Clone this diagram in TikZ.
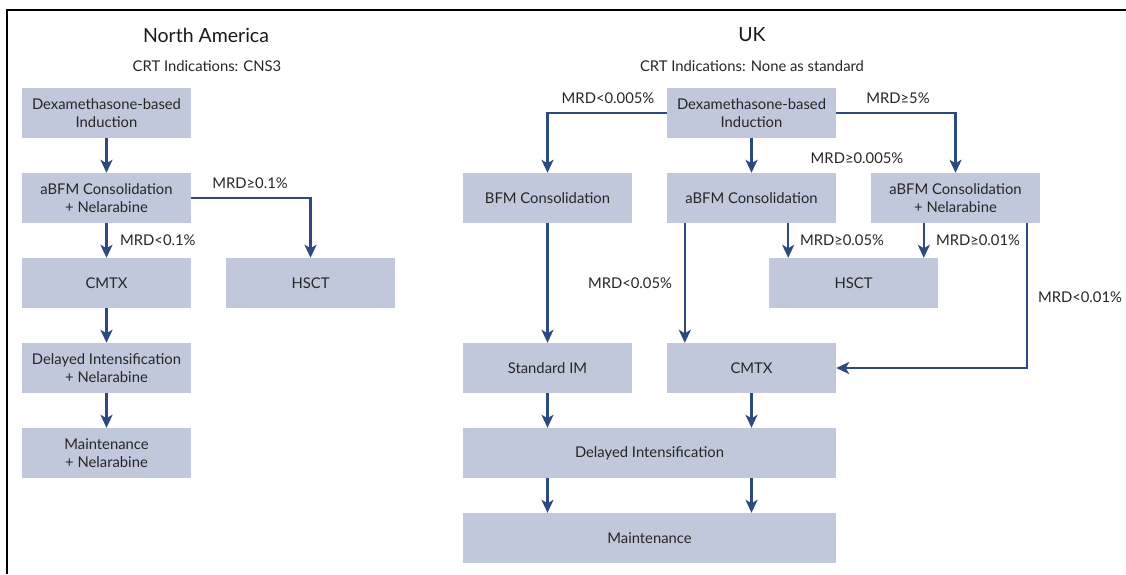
\documentclass[tikz,border=0pt]{standalone}
\usepackage{fontspec}
\setmainfont{Lato}
\usetikzlibrary{arrows.meta,calc}
\definecolor{boxfill}{HTML}{C2C8DB}
\definecolor{arrblue}{HTML}{2C4A80}
\tikzset{
  box/.style={fill=boxfill, draw=none, minimum width=169pt, minimum height=50pt, align=center, inner sep=0pt, font=\fontsize{14.8}{17.5}\selectfont, text=black!85},
  widebox/.style={box, minimum width=373pt},
  arr/.style={draw=arrblue, line width=2.4pt, -{Stealth[length=13pt,width=12pt,inset=3.5pt]}},
  lbl/.style={font=\fontsize{14.8}{17.5}\selectfont, inner sep=0pt, text=black!85},
  ttl/.style={font=\fontsize{19.5}{23}\selectfont, inner sep=0pt, text=black!90},
}
\begin{document}
\begin{tikzpicture}[x=1pt,y=-1pt]
\useasboundingbox (0,0) rectangle (1126,574);
\draw[line width=2pt, black] (1126,10) -- (7,10) -- (7,574);

% North America
\node[ttl] (tna) at (206,35) {North America};
\node[lbl] (cna) at (207,66) {CRT Indications: CNS3};
\node[box] (ind1) at (106.5,113) {Dexamethasone-based\\Induction};
\node[box] (abfm1) at (106.5,198) {aBFM Consolidation\\+ Nelarabine};
\node[box] (cmtx1) at (106.5,283) {CMTX};
\node[box] (hsct1) at (310.5,283) {HSCT};
\node[box] (di1) at (106.5,368) {Delayed Intensification\\+ Nelarabine};
\node[box] (mt1) at (106.5,453) {Maintenance\\+ Nelarabine};

\draw[arr] (ind1) -- (abfm1);
\draw[arr] (abfm1) -- (cmtx1);
\draw[arr] (abfm1.east) -| (hsct1.north);
\draw[arr] (cmtx1) -- (di1);
\draw[arr] (di1) -- (mt1);
\node[lbl] (l1) at (250,183) {MRD≥0.1\%};
\node[lbl, anchor=west] (l2) at (120,240) {MRD<0.1\%};

% UK
\node[ttl] (tuk) at (752,35) {UK};
\node[lbl] (cuk) at (752,66) {CRT Indications: None as standard};
\node[box] (ind2) at (751.5,113) {Dexamethasone-based\\Induction};
\node[box] (bfm) at (547.5,198) {BFM Consolidation};
\node[box] (abfm2) at (751.5,198) {aBFM Consolidation};
\node[box] (abfmn) at (955.5,198) {aBFM Consolidation\\+ Nelarabine};
\node[box] (hsct2) at (853.5,283) {HSCT};
\node[box] (stdim) at (547.5,368) {Standard IM};
\node[box] (cmtx2) at (751.5,368) {CMTX};
\node[widebox] (di2) at (649.5,453) {Delayed Intensification};
\node[widebox] (mt2) at (649.5,538) {Maintenance};

\draw[arr] (ind2.west) -| (bfm.north);
\draw[arr] (ind2.east) -| (abfmn.north);
\draw[arr] (ind2) -- (abfm2);
\draw[arr] (bfm) -- (stdim);
\draw[arr] ([xshift=18pt]abfm2.south west) -- ([xshift=18pt]cmtx2.north west);
\draw[arr] ([xshift=-48pt]abfm2.south east) -- ([xshift=-48pt]abfm2.south east |- hsct2.north);
\draw[arr] ([xshift=53pt]abfmn.south west) -- ([xshift=53pt]abfmn.south west |- hsct2.north);
\draw[arr] ([xshift=-13pt]abfmn.south east) |- (cmtx2.east);
\draw[arr] (stdim) -- (stdim |- di2.north);
\draw[arr] (cmtx2) -- (cmtx2 |- di2.north);
\draw[arr] (di2.south -| stdim) -- (mt2.north -| stdim);
\draw[arr] (di2.south -| cmtx2) -- (mt2.north -| cmtx2);

\node[lbl] (l3) at (608,98) {MRD<0.005\%};
\node[lbl] (l4) at (898,98) {MRD≥5\%};
\node[lbl] (l5) at (857,158) {MRD≥0.005\%};
\node[lbl] (l6) at (842,240) {MRD≥0.05\%};
\node[lbl] (l7) at (978,240) {MRD≥0.01\%};
\node[lbl] (l8) at (630,283) {MRD<0.05\%};
\node[lbl] (l9) at (1080,297) {MRD<0.01\%};
\end{tikzpicture}
\end{document}
